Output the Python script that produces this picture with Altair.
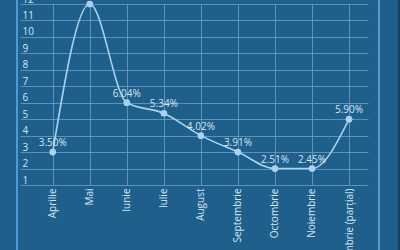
import altair as alt
import pandas as pd

months = ["Aprilie", "Mai", "Iunie", "Iulie", "August", "Septembrie",
          "Octombrie", "Noiembrie", "Decembrie (parțial)"]
positions = [3, 12, 6, 5.36, 4, 3, 2, 2, 5]
labels = ["3.50%", "11.81%", "6.04%", "5.34%", "4.02%", "3.91%",
          "2.51%", "2.45%", "5.90%"]
y_ticks = list(range(1, 13))

df = pd.DataFrame({"idx": list(range(len(months))), "month": months,
                   "pos": positions, "label": labels})

BG = "#1f5f8b"
GRID = "#6e9fc4"
LINE = "#a9d2ee"
TXT = "#d6e6f2"
FONT = "Open Sans"

month_js = "[" + ",".join('"%s"' % m for m in months) + "]"

x = alt.X("idx:Q", scale=alt.Scale(domain=[-0.883, 8.512], nice=False, zero=False),
          axis=alt.Axis(values=list(range(len(months))), labelExpr=month_js + "[datum.value]",
                        title=None, grid=True, gridColor=GRID, gridOpacity=0.8, gridWidth=1,
                        domain=False, ticks=False, labelAngle=-90, labelPadding=3,
                        labelColor=TXT, labelFont=FONT, labelFontSize=10,
                        labelFlush=False, labelOverlap=False, labelBound=False))
y = alt.Y("pos:Q", scale=alt.Scale(domain=[1, 12], nice=False, zero=False),
          axis=alt.Axis(values=y_ticks, title=None, grid=True, gridColor=GRID,
                        gridOpacity=0.8, gridWidth=1, domain=False, ticks=False, tickSize=0,
                        labelAlign="left", labelBaseline="alphabetic", labelOffset=-2,
                        labelPadding=-2, labelColor=TXT, labelFont=FONT, labelFontSize=10,
                        labelFlush=False, labelOverlap=False, labelBound=False))

base = alt.Chart(df)
line = base.mark_line(interpolate="monotone", color=LINE, strokeWidth=1.6).encode(x=x, y=y)
pts = base.mark_point(filled=True, color=LINE, size=45, opacity=1).encode(x=x, y=y)
txt = base.mark_text(dy=-9, color=TXT, font=FONT, fontSize=10).encode(x=x, y=y, text="label:N")

frame_l = alt.Chart(df).mark_rule(color="#4d9bd6", strokeWidth=2).encode(
    x=alt.value(-3), y=alt.value(-10), y2=alt.value(300))
frame_r = alt.Chart(df).mark_rule(color="#4d9bd6", strokeWidth=2).encode(
    x=alt.value(359), y=alt.value(-10), y2=alt.value(300))
edge_r = alt.Chart(df).mark_rule(color="#173f5f", strokeWidth=2).encode(
    x=alt.value(379), y=alt.value(-10), y2=alt.value(300))

chart = alt.layer(line, pts, txt, frame_l, frame_r, edge_r).properties(
    width=348, height=181,
    padding={"left": 20, "top": 4, "right": 32, "bottom": 65},
    autosize=alt.AutoSizeParams(type="none"),
    background=BG,
).configure_view(stroke=None)

chart.save("out.html", embed_options={"renderer": "svg", "actions": False})
